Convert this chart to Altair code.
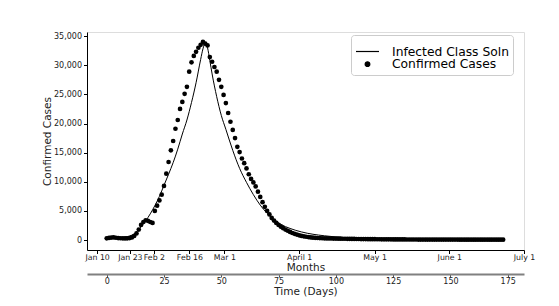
import altair as alt
import pandas as pd

# Confirmed cases, one value per day starting at day 0
confirmed = [
    300, 380, 430, 450, 400, 350, 320, 300, 290, 300,
    340, 450, 700, 1150, 1800, 2600, 3100, 3400, 3300, 3100,
    2950, 5000, 5900, 6800, 7800, 9300, 11400, 13400, 15400, 17000,
    19100, 20600, 22500, 23700, 25100, 26300, 28900, 30500, 31600, 32300,
    33000, 33500, 34000, 33700, 33400, 31400, 30600, 29700, 28900, 27500,
    26300, 24900, 23500, 21800, 20300, 18900, 17500, 16000, 15100, 14000,
    13200, 12300, 11300, 10500, 9900, 9200, 8300, 7400, 6500, 5700,
    5000, 4400, 3800, 3350, 2950, 2600, 2300, 2050, 1800, 1600,
    1400, 1220, 1070, 940, 820, 720, 640, 570, 510, 460,
    420, 390, 360, 340, 320, 300, 290, 280, 270, 265,
    260, 250, 240, 235, 230, 220, 210, 200, 195, 190,
    185, 180, 175, 170, 165, 160, 155, 150, 146, 142,
    138, 134, 130, 127, 124, 121, 118, 115, 112, 110,
    108, 106, 104, 102, 100, 98, 96, 95, 94, 93,
    92, 91, 90, 89, 88, 87, 86, 85, 84, 83,
    82, 81, 80, 80, 79, 79, 78, 78, 77, 77,
    76, 76, 75, 75, 74, 74, 73, 73, 72, 72,
    71, 71, 70, 70,
]
conf_days = list(range(len(confirmed)))

# Infected class solution (model curve)
model_days = [0, 3, 6, 9, 11, 13, 15, 17, 19, 21, 23, 25, 27, 29, 31, 33, 35, 37, 39,
              41, 42, 43, 44, 45, 46, 48, 50, 52, 55, 58, 61, 64, 67, 70, 73, 76,
              80, 85, 90, 95, 100, 105, 110, 120, 130, 140, 155, 173]
model_vals = [280, 330, 420, 600, 850, 1400, 2300, 3300, 4500, 5900, 7500, 9400, 11300,
              13300, 15600, 18200, 20600, 23600, 27000, 31000, 32800, 33800, 33000,
              30800, 28500, 24600, 21400, 19000, 15400, 12300, 9900, 7800, 6000, 4600,
              3500, 2700, 2000, 1400, 1000, 740, 540, 390, 270, 130, 65, 32, 12, 4]

series_names = ["Infected Class Soln", "Confirmed Cases"]

month_pos = [-4.2, 10.1, 20.6, 36.1, 51.3, 84.0, 116.9, 149.5, 182.1]
month_labels = ["Jan 10", "Jan 23", "Feb 2", "Feb 16", "Mar 1", "April 1", "May 1", "June 1", "July 1"]
day_ticks = [0, 25, 50, 75, 100, 125, 150, 175]
y_ticks = [0, 5000, 10000, 15000, 20000, 25000, 30000, 35000]

conf_df = pd.DataFrame({"day": conf_days, "value": confirmed, "series": series_names[1]})
model_df = pd.DataFrame({"day": model_days, "value": model_vals, "series": series_names[0]})

FONT = "DejaVu Sans"
xscale = alt.Scale(domain=[-8.6, 182.1], nice=False, zero=False)
yscale = alt.Scale(domain=[-1700, 35700], nice=False, zero=False)

label_map = "{" + ",".join(f"'{p:g}':'{l}'" for p, l in zip(month_pos, month_labels)) + "}"

yaxis = alt.Axis(title="Confirmed Cases", values=y_ticks, labelExpr="format(datum.value, ',')",
                 grid=False, labelFontSize=8, titleFontSize=10.5, tickSize=3.5, labelPadding=2,
                 titlePadding=1, titleFontWeight="normal", labelColor="#222",
                 titleColor="#222", domainColor="black", tickColor="black")

months_axis = alt.Axis(title="Months", orient="bottom", values=month_pos,
                       labelExpr=label_map + "[toString(datum.value)]",
                       grid=False, labelFontSize=7.8, titleFontSize=10.5, tickSize=3.5,
                       labelPadding=0, titlePadding=1, titleFontWeight="normal",
                       domainColor="black", tickColor="black", labelColor="#222",
                       titleColor="#222", labelFlush=False, labelOverlap=False)

days_axis = alt.Axis(title="Time (Days)", orient="bottom", offset=24, values=day_ticks,
                     grid=False, labelFontSize=8, titleFontSize=10.5, tickSize=3,
                     labelPadding=0, titlePadding=1, titleFontWeight="normal",
                     domainColor="#808080", domainWidth=2, tickColor="#555",
                     labelColor="#222", titleColor="#222", labelFlush=False)

line = alt.Chart(model_df).mark_line(color="black", strokeWidth=1, interpolate="monotone").encode(
    x=alt.X("day:Q", scale=xscale, axis=months_axis),
    y=alt.Y("value:Q", scale=yscale, axis=yaxis),
)

legend = alt.Legend(
    title=None, orient="none", legendX=264, legendY=3,
    labelFontSize=12.3, labelFont=FONT, labelColor="black",
    labelOffset=12, rowPadding=0, padding=4,
    strokeColor="#cccccc", fillColor="rgba(255,255,255,0.8)", cornerRadius=3,
    symbolStrokeColor="black", symbolStrokeWidth=1.2, symbolFillColor="black",
    symbolOpacity=1,
)

points = alt.Chart(conf_df).mark_point(filled=True, opacity=1).encode(
    x=alt.X("day:Q", scale=xscale, axis=days_axis),
    y=alt.Y("value:Q", scale=yscale, axis=yaxis),
    color=alt.Color("series:N", scale=alt.Scale(domain=series_names, range=["black", "black"]),
                    legend=legend),
    shape=alt.Shape("series:N", scale=alt.Scale(domain=series_names, range=["stroke", "circle"]),
                    legend=legend),
    size=alt.Size("series:N", scale=alt.Scale(type="point", domain=series_names, range=[529, 22], padding=0),
                  legend=legend),
)

chart = alt.layer(line, points).resolve_axis(x="independent").properties(
    width=437, height=218,
    autosize=alt.AutoSizeParams(type="none"),
    padding={"left": 79, "top": 24, "right": 27, "bottom": 56},
).configure_view(stroke="black", strokeWidth=1).configure(font=FONT)

chart.save("out.html", embed_options={"renderer": "svg", "actions": False})
